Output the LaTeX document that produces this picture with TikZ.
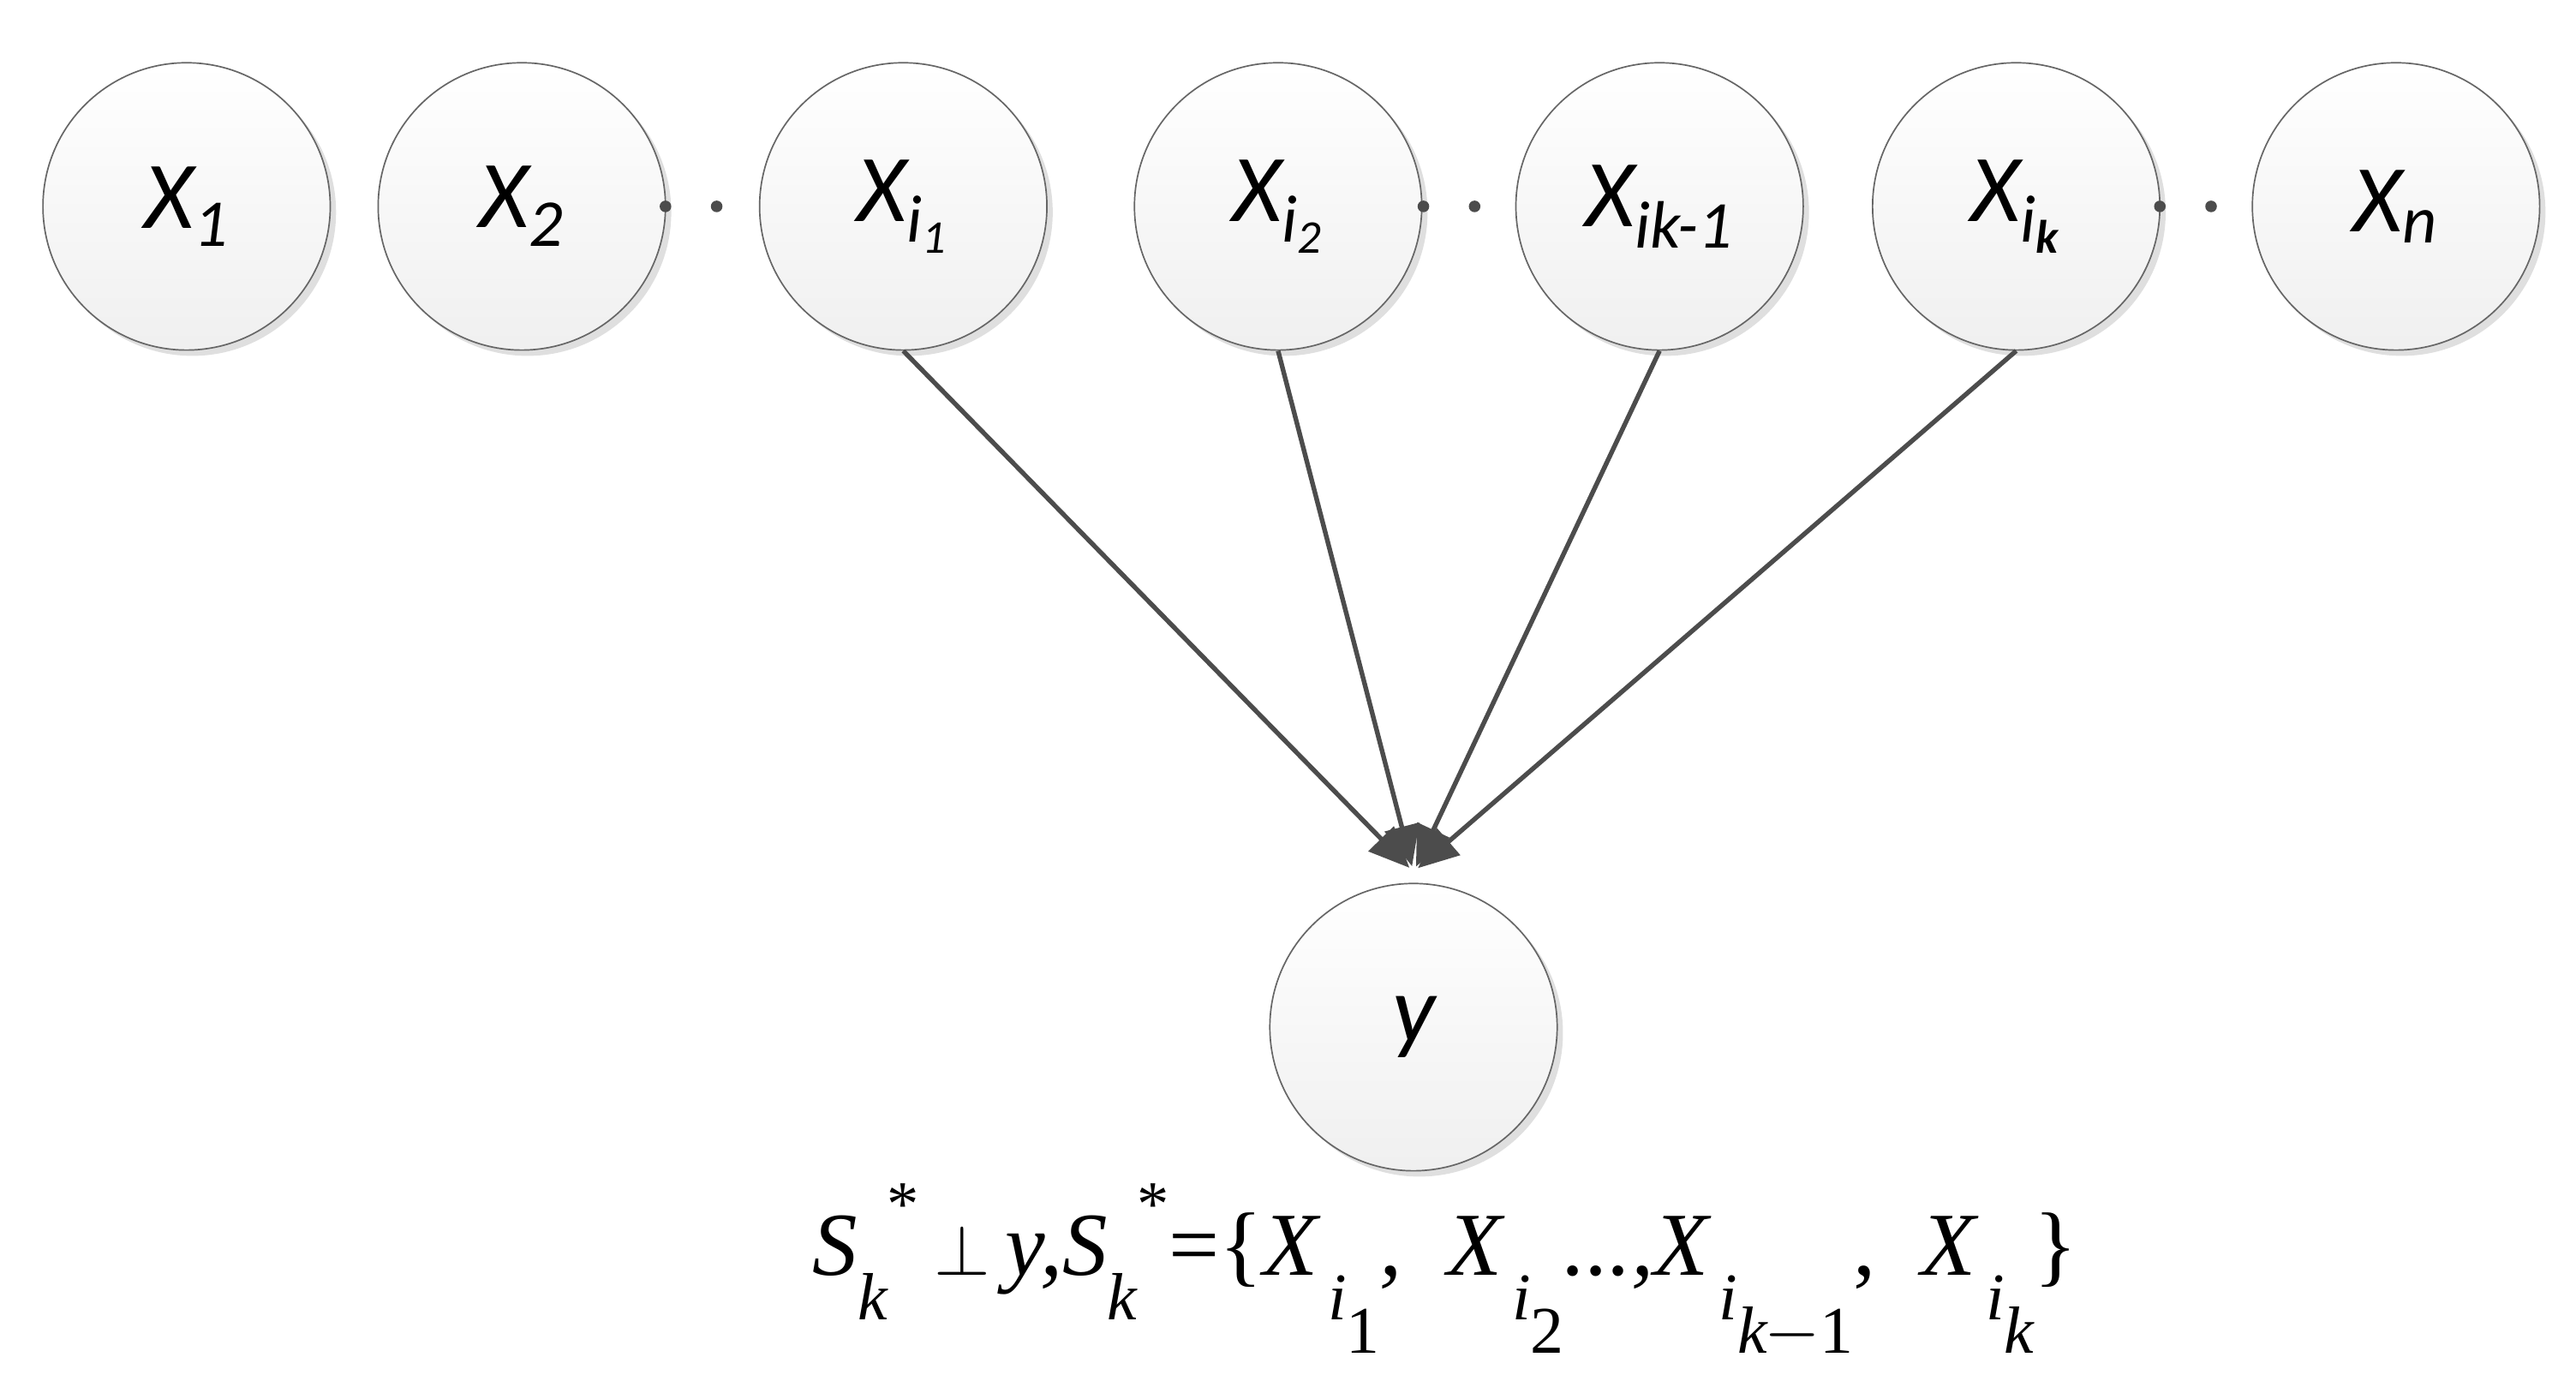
\documentclass[tikz,border=0pt]{standalone}
\usepackage{fontspec}
\setmainfont{Liberation Serif}
\newfontfamily\lbl{Carlito}
\newfontfamily\tms{Liberation Serif}
\usetikzlibrary{arrows.meta,shadows}
\newcommand\lo[1]{\raisebox{-0.5em}{\tms\itshape\fontsize{23}{23}\selectfont #1}}
\newcommand\st{\raisebox{0.55em}{\tms\fontsize{22}{22}\selectfont\upshape *}}
\begin{document}
\begin{tikzpicture}[x=0.02cm,y=-0.02cm,
  var/.style={circle,minimum size=174*0.02cm,inner sep=0pt,draw=gray!80!black,line width=0.5pt,
    top color=white,bottom color=gray!12,
    drop shadow={shadow xshift=2pt,shadow yshift=-2pt,fill=gray!25,opacity=1},
    font=\lbl\itshape\fontsize{33}{33}\selectfont},
  arr/.style={draw=gray!60!black,line width=1.6pt,-{Triangle[length=14pt,width=12pt]},shorten >=2pt},
  dot/.style={circle,fill=gray!60!black,inner sep=0pt,minimum size=4pt}]
\useasboundingbox (0,0) rectangle (1560,847);
\node[var] (x1) at (113,125) {X\textsubscript{1}};
\node[var] (x2) at (316,125) {X\textsubscript{2}};
\node[var] (xi1) at (547,125) {X\textsubscript{i\textsubscript{1}}};
\node[var] (xi2) at (774,125) {X\textsubscript{i\textsubscript{2}}};
\node[var] (xik1) at (1005,125) {X\textsubscript{ik-1}};
\node[var] (xik) at (1221,125) {X\textsubscript{i\textsubscript{\textbf{k}}}};
\node[var] (xn) at (1451,125) {X\textsubscript{n}};
\node[var] (y) at (856,622) {y};
\node[dot] (d1) at (403,125) {}; \node[dot] (d2) at (434,125) {};
\node[dot] (d3) at (862,125) {}; \node[dot] (d4) at (893,125) {};
\node[dot] (d5) at (1308,125) {}; \node[dot] (d6) at (1339,125) {};
\coordinate (tip) at (856,528);
\draw[arr] (xi1.south) -- (tip);
\draw[arr] (xi2.south) -- (tip);
\draw[arr] (xik1.south) -- (tip);
\draw[arr] (xik.south) -- (tip);
\node[font=\tms\itshape\fontsize{31}{31}\selectfont,inner sep=0pt] (f) at (875,770)
  {S\lo{k}\st\,{\upshape$\perp$}\,y,S\lo{k}\st{\upshape=\{}X\lo{\kern0.15em i\lo{\upshape 1}},\ \ X\lo{\kern0.15em i\lo{\upshape 2}}...,X\lo{\kern0.15em i\lo{k{\upshape\kern-0.05em$-$1}}}{\upshape,}\ \ X\lo{\kern0.15em i\lo{k}}{\upshape\}}};
\end{tikzpicture}
\end{document}
